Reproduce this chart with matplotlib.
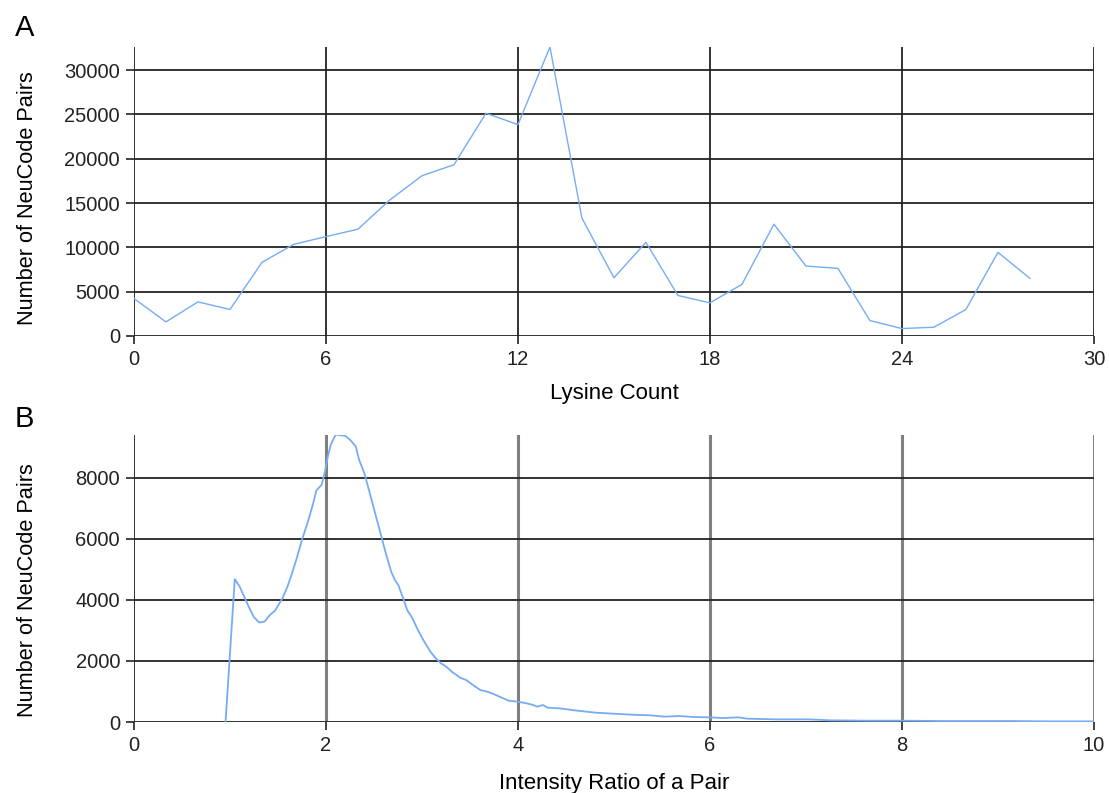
import numpy as np
import matplotlib
matplotlib.use("Agg")
import matplotlib.pyplot as plt

plt.rcParams['font.family'] = ['Liberation Sans', 'DejaVu Sans']

# panel A: lysine count histogram
lysine = list(range(0, 29))
lysine_pairs = [4230, 1590, 3850, 2990, 8310, 10350, 11210, 12050, 15360, 18080,
                19320, 25130, 23850, 32600, 13290, 6570, 10570, 4570, 3740, 5820,
                12610, 7890, 7630, 1740, 840, 990, 2990, 9440, 6500]

# panel B: intensity ratio distribution
ratio = [0.954, 1.05, 1.10, 1.195, 1.25, 1.306, 1.36, 1.417, 1.47, 1.547, 1.60,
         1.647, 1.696, 1.75, 1.807, 1.863, 1.90, 1.955, 1.99, 2.02, 2.05, 2.10,
         2.197, 2.25, 2.31, 2.345, 2.40, 2.456, 2.512, 2.568, 2.623, 2.679, 2.716,
         2.753, 2.798, 2.846, 2.90, 2.957, 3.013, 3.087, 3.143, 3.199, 3.254, 3.31,
         3.40, 3.458, 3.532, 3.607, 3.68, 3.755, 3.83, 3.90, 4.0, 4.09, 4.16, 4.2,
         4.26, 4.31, 4.43, 4.62, 4.81, 5.0, 5.19, 5.38, 5.53, 5.68, 5.83, 6.0,
         6.13, 6.3, 6.39, 6.69, 7.03, 7.26, 7.63, 8.0, 8.4, 8.76, 9.14, 9.52, 10.0]
ratio_pairs = [0, 4680, 4440, 3780, 3430, 3260, 3290, 3510, 3650, 4055, 4440,
               4875, 5370, 5970, 6510, 7115, 7585, 7770, 8210, 8700, 9080, 9410,
               9380, 9250, 9030, 8590, 8150, 7500, 6840, 6190, 5530, 4930, 4660,
               4490, 4110, 3670, 3400, 3020, 2690, 2310, 2090, 1920, 1810, 1650,
               1450, 1380, 1210, 1050, 995, 905, 800, 700, 665, 612, 557, 503,
               557, 470, 448, 372, 306, 273, 240, 219, 175, 197, 164, 153,
               131, 153, 109, 87, 87, 55, 44, 44, 33, 33, 33, 22, 22]

line_col = '#76acf2'

fig = plt.figure(figsize=(11.09, 7.93), dpi=100)
axA = fig.add_axes([0.1208, 0.5763, 0.8656, 0.3644])
axB = fig.add_axes([0.1208, 0.0895, 0.8656, 0.3619])

for ax in (axA, axB):
    for s in ax.spines.values():
        s.set_visible(False)
    ax.tick_params(direction='out', length=6, width=1.2, color='#222222',
                   labelsize=14.5, pad=4, labelcolor='#222222')
    ax.set_axisbelow(True)

# A
axA.plot(lysine, lysine_pairs, color=line_col, lw=1.0, zorder=3)
axA.set_xlim(0, 30)
axA.set_ylim(0, 32600)
axA.set_xticks(range(0, 31, 6))
axA.set_yticks(range(0, 30001, 5000))
axA.grid(True, color='#222222', lw=1.3)
axA.set_xlabel('Lysine Count', fontsize=16, labelpad=10)
axA.set_ylabel('Number of NeuCode Pairs', fontsize=15.7)
axA.yaxis.set_label_coords(-0.1, 0.477)

# B
axB.plot(ratio, ratio_pairs, color=line_col, lw=1.3, zorder=3)
axB.set_xlim(0, 10)
axB.set_ylim(0, 9400)
axB.set_xticks(range(0, 11, 2))
axB.set_yticks(range(0, 8001, 2000))
axB.grid(True, axis='y', color='#222222', lw=1.3)
axB.grid(True, axis='x', color='#808080', lw=2.2)
axB.get_xgridlines()[0].set_visible(False)
axB.axvline(0, color='#222222', lw=1.3, zorder=1)
axB.set_xlabel('Intensity Ratio of a Pair', fontsize=16, labelpad=13)
axB.set_ylabel('Number of NeuCode Pairs', fontsize=15.7)
axB.yaxis.set_label_coords(-0.1, 0.46)

fig.text(0.0135, 0.965, 'A', fontsize=21, va='center', ha='left')
fig.text(0.0135, 0.472, 'B', fontsize=21, va='center', ha='left')

fig.savefig('out.png', dpi=100)
